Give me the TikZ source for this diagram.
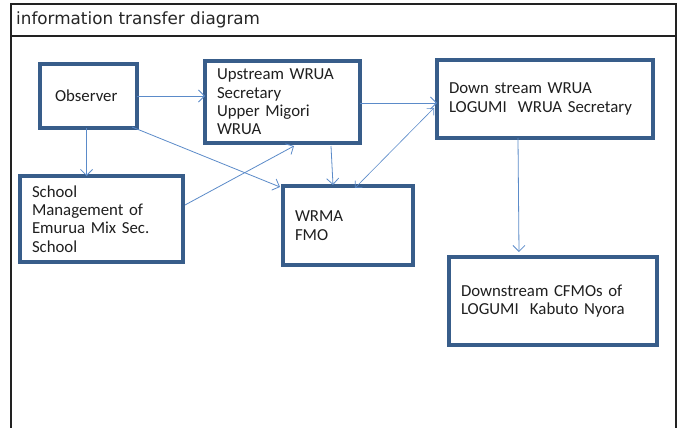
\documentclass[tikz,border=0pt]{standalone}
\usepackage{fontspec}
\setmainfont{Carlito}
\newfontfamily\titlefont{DejaVu Sans}
\usetikzlibrary{arrows.meta,calc}
\definecolor{boxblue}{HTML}{385D8A}
\definecolor{arrowblue}{HTML}{5B8BC9}
\definecolor{framegray}{HTML}{222222}
\begin{document}
\begin{tikzpicture}[x=1pt,y=-1pt,
  box/.style={draw=boxblue, line width=3.2pt, fill=white, align=left, anchor=north west,
    outer sep=0pt, inner xsep=12pt, inner ysep=0pt, text=black!88,
    font=\fontsize{16.8}{18.4}\selectfont},
  conn/.style={draw=arrowblue, line width=0.8pt, -{Straight Barb[length=6pt,width=12pt]}},
  dconn/.style={draw=arrowblue, line width=0.6pt, {Straight Barb[length=5pt,width=10pt]}-{Straight Barb[length=5pt,width=10pt]}}
]
\useasboundingbox (0,0) rectangle (681,428);
\fill[white] (0,0) rectangle (681,428);
\draw[line width=1.8pt, framegray] (11,428) -- (11,4) -- (676,4) -- (676,428);
\draw[line width=1.2pt, framegray] (11,36) -- (676,36);
\node[anchor=west, inner sep=0pt, text=black!85, font=\titlefont\fontsize{16.8}{18}\selectfont] (title) at (16,20) {information transfer diagram};

\node[box, inner xsep=15pt, minimum width=97pt, minimum height=64pt, text width=67pt] (obs) at (40,64) {Observer};
\node[box, minimum width=155pt, minimum height=82pt, text width=131pt] (up) at (205,61) {Upstream WRUA\\Secretary\\Upper Migori\\WRUA};
\node[box, minimum width=216pt, minimum height=78pt, text width=192pt] (down) at (437,60) {Down stream WRUA\\LOGUMI\ \ WRUA Secretary};
\node[box, minimum width=163pt, minimum height=86pt, text width=139pt] (school) at (20,176) {School\\Management of\\Emurua Mix Sec.\\School};
\node[box, minimum width=130pt, minimum height=79pt, text width=106pt] (wrma) at (283,186) {WRMA\\FMO};
\node[box, minimum width=208pt, minimum height=88pt, text width=184pt] (cfmo) at (449,257) {Downstream CFMOs of\\LOGUMI\ \ Kabuto Nyora};

\draw[conn] (obs.east) -- (obs.east -| up.west);
\draw[conn] ([xshift=-2pt]obs.south) -- ([xshift=-2pt]obs.south |- school.north);
\draw[conn] ($(obs.south east)+(-5,-1)$) -- ($(wrma.north west)+(-3,1)$);
\draw[conn] ($(school.east)+(2,-14)$) -- ($(up.south west)+(89,3)$);
\draw[conn] ($(up.south west)+(126,3)$) -- ($(wrma.north west)+(50,-1)$);
\draw[conn] ([yshift=-1pt]up.east) -- ([yshift=-1pt]up.east -| down.west);
\draw[dconn] ($(wrma.north west)+(72,2)$) -- ($(down.north west)+(-3,48)$);
\draw[conn] ($(down.south west)+(81,0)$) -- ($(cfmo.north west)+(70,-5)$);
\end{tikzpicture}
\end{document}
